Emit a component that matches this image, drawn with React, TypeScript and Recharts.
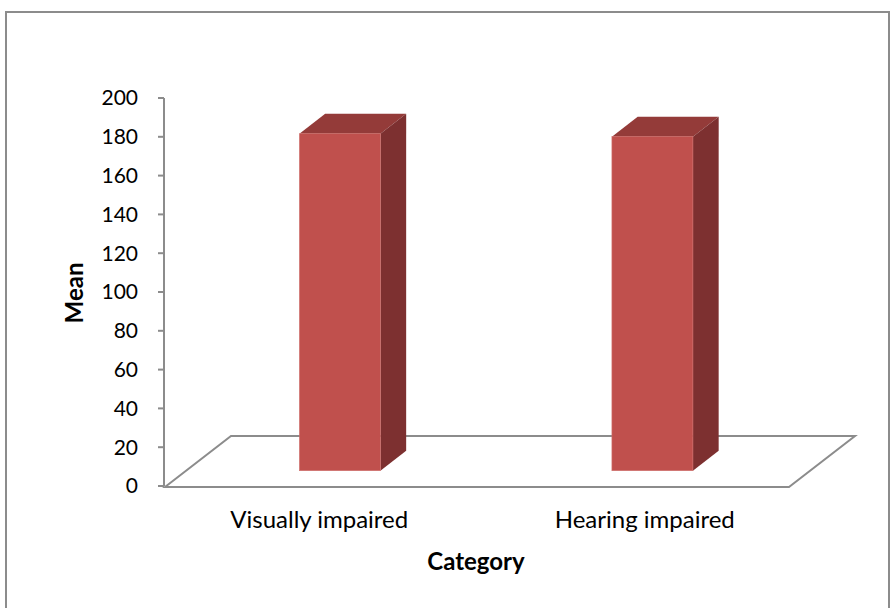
import React from "react";
import { Bar, BarChart, Customized, XAxis, YAxis } from "recharts";

const CATEGORIES = ["Visually impaired", "Hearing impaired"];
const MEANS = [173.7, 172.2];
const Y_TICKS = [0, 20, 40, 60, 80, 100, 120, 140, 160, 180, 200];

const W = 893;
const H = 608;
const FONT = "Lato, 'Open Sans', sans-serif";
const GRAY = "#8c8c8c";
const FRONT = "#c0504d";
const SIDE = "#7d3030";
const TOP = "#943b39";

// plot area (front plane of the 3D box)
const LEFT = 164;
const RIGHT = 104;
const TOPM = 98;
const BOTTOM = 122;

// depth of the floor and where the bars sit inside it
const DEPTH_X = 66;
const DEPTH_Y = 51;
const BAR_FRONT = 0.3;
const BAR_DEPTH = 0.39;

const data = CATEGORIES.map((c, i) => ({ name: c, mean: MEANS[i] }));

function Box(props: any) {
  const { x, y, width, height } = props;
  const fx = x + DEPTH_X * BAR_FRONT;
  const fy = y - DEPTH_Y * BAR_FRONT;
  const dx = DEPTH_X * BAR_DEPTH;
  const dy = DEPTH_Y * BAR_DEPTH;
  const r = fx + width;
  const b = fy + height;
  return (
    <g>
      <polygon points={`${fx},${fy} ${fx + dx},${fy - dy} ${r + dx},${fy - dy} ${r},${fy}`} fill={TOP} />
      <polygon points={`${r},${fy} ${r + dx},${fy - dy} ${r + dx},${b - dy} ${r},${b}`} fill={SIDE} />
      <rect x={fx} y={fy} width={width} height={height} fill={FRONT} stroke="#d0706d" strokeWidth={0.6} />
    </g>
  );
}

function Floor() {
  const x0 = LEFT + 1;
  const x1 = W - RIGHT;
  const y0 = H - BOTTOM + 1;
  return (
    <polygon
      points={`${x0},${y0} ${x0 + DEPTH_X},${y0 - DEPTH_Y} ${x1 + DEPTH_X},${y0 - DEPTH_Y} ${x1},${y0}`}
      fill="none"
      stroke={GRAY}
      strokeWidth={2}
    />
  );
}

function Titles() {
  return (
    <g fontFamily={FONT} fontWeight="bold" fontSize={24} fill="#000">
      <text x={83} y={293} textAnchor="middle" transform="rotate(-90 83 293)">Mean</text>
      <text x={476} y={570} textAnchor="middle">Category</text>
    </g>
  );
}

function CatTick(props: any) {
  const { x, y, payload, index } = props;
  // Excel centres the second label slightly to the right of its bar
  const shift = index === 1 ? 12 : -1;
  return (
    <text x={x + shift} y={y} dy="0.71em" textAnchor="middle" fontSize={24} fontFamily={FONT} fill="#000">
      {payload.value}
    </text>
  );
}

export default function App() {
  return (
    <div style={{ position: "absolute", left: 0, top: 0, width: W, height: H, background: "#fff", overflow: "hidden" }}>
      <div
        style={{
          position: "absolute",
          left: 5,
          top: 11,
          width: 885,
          height: 640,
          border: `2px solid ${GRAY}`,
          boxSizing: "border-box",
        }}
      />
      <div style={{ position: "absolute", left: 0, top: 0 }}>
        <BarChart
          width={W}
          height={H}
          data={data}
          margin={{ top: TOPM, right: RIGHT, left: 0, bottom: 0 }}
          barCategoryGap="37%"
        >
          <Customized component={<Floor />} />
          <XAxis
            dataKey="name"
            axisLine={false}
            tickLine={false}
            tickSize={0}
            tickMargin={25}
            height={BOTTOM}
            tick={<CatTick />}
            interval={0}
          />
          <YAxis
            domain={[0, 200]}
            ticks={Y_TICKS}
            width={LEFT}
            axisLine={{ stroke: GRAY, strokeWidth: 2 }}
            tickLine={{ stroke: GRAY, strokeWidth: 2 }}
            tickSize={6}
            tickMargin={20}
            tick={{ fontSize: 21, fill: "#000", fontFamily: FONT }}
            interval={0}
          />
          <Bar dataKey="mean" shape={<Box />} isAnimationActive={false} />
          <Customized component={<Titles />} />
        </BarChart>
      </div>
    </div>
  );
}
